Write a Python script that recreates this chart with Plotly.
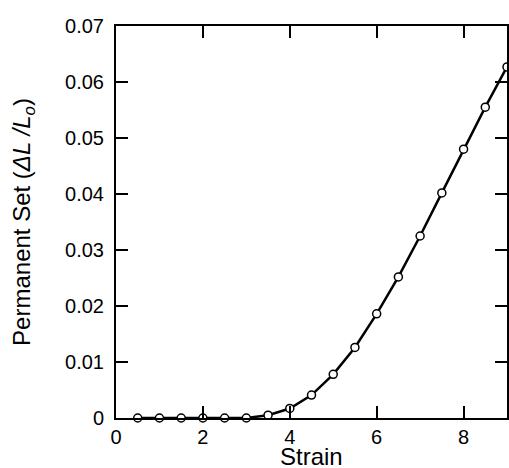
import plotly.graph_objects as go

strain = [0.5, 1.0, 1.5, 2.0, 2.5, 3.0, 3.5, 4.0, 4.5, 5.0, 5.5, 6.0, 6.5, 7.0, 7.5, 8.0, 8.5, 9.0]
permanent_set = [0.0, 0.0, 0.0, 0.0, 0.0, 0.0, 0.0005, 0.0017, 0.0041, 0.0078, 0.0126, 0.0186,
                 0.0252, 0.0325, 0.0402, 0.0480, 0.0555, 0.0627]

x_ticks = [0, 2, 4, 6, 8]
y_ticks = [0, 0.01, 0.02, 0.03, 0.04, 0.05, 0.06, 0.07]
y_tick_text = ["0", "0.01", "0.02", "0.03", "0.04", "0.05", "0.06", "0.07"]
x_title = "Strain"
y_title = "Permanent Set (<i>ΔL /L<sub>o</sub></i>)"

font = "Liberation Sans, Arial, Helvetica, sans-serif"

fig = go.Figure()
fig.add_trace(go.Scatter(
    x=strain, y=permanent_set, mode="lines+markers",
    line=dict(color="black", width=2.5),
    marker=dict(symbol="circle", size=8, color="white", line=dict(color="black", width=1.5)),
    cliponaxis=False, showlegend=False,
))

axis_common = dict(
    showline=True, linecolor="black", linewidth=2, mirror="ticks",
    ticks="inside", ticklen=12, tickwidth=1.5, tickcolor="black",
    showgrid=False, zeroline=False, automargin=False,
    tickfont=dict(family=font, size=20, color="black"),
)

fig.update_xaxes(range=[0, 9], tickvals=x_ticks, ticktext=[str(v) for v in x_ticks],
                 ticklabelstandoff=0, **axis_common)
fig.update_yaxes(range=[0, 0.07], tickvals=y_ticks, ticktext=y_tick_text,
                 title=dict(text=y_title, font=dict(family=font, size=24, color="black"), standoff=28),
                 ticklabelstandoff=6, **axis_common)

fig.add_annotation(text=x_title, xref="paper", yref="paper", x=0.5, y=0,
                   xanchor="center", yanchor="middle", yshift=-38, showarrow=False,
                   font=dict(family=font, size=24, color="black"))

fig.update_layout(
    width=509, height=468,
    margin=dict(l=116, r=2, t=26, b=50, autoexpand=False),
    plot_bgcolor="white", paper_bgcolor="white",
    font=dict(family=font, color="black"),
)

fig.write_html("out.html", config={"displayModeBar": False},
               post_script="document.body.style.margin='0';document.body.style.padding='0';")
